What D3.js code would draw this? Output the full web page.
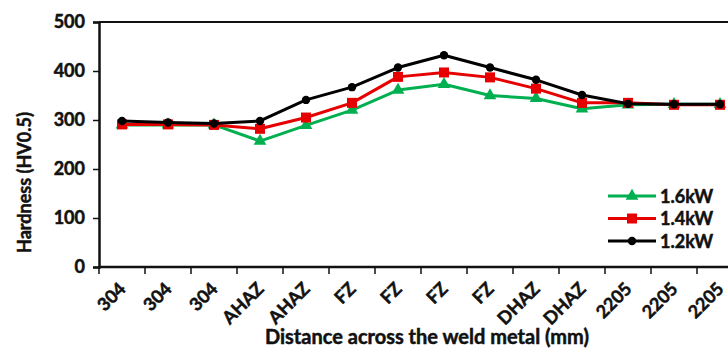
<!DOCTYPE html>
<html lang="en">
<head>
    <meta charset="UTF-8">
    <title>Hardness across the weld</title>
    <script src="https://cdnjs.cloudflare.com/ajax/libs/d3/7.8.5/d3.min.js"></script>
    <style>
        body {
            margin: 0;
            background: #fff;
            overflow: hidden;
        }
        text {
            font-family: Lato, 'Open Sans', Arial, sans-serif;
            font-weight: 700;
            fill: #111;
            stroke: #111;
            stroke-width: 0.5px;
        }
    </style>
</head>
<body>
    <div id="chart"></div>
    <script>
    const categories = ["304", "304", "304", "AHAZ", "AHAZ", "FZ", "FZ", "FZ", "FZ", "DHAZ", "DHAZ", "2205", "2205", "2205"];
    const hv16 = [290, 290, 290, 257, 289, 320, 361, 373, 350, 344, 323, 331, 332, 332];
    const hv14 = [291, 291, 290, 282, 305, 335, 388, 397, 387, 364, 335, 335, 331, 331];
    const hv12 = [298, 295, 293, 298, 341, 367, 407, 432, 407, 382, 351, 333, 332, 332];
    const yTicks = [0, 100, 200, 300, 400, 500];

    const series = [
        { name: "1.6kW", values: hv16, color: "#00b050", marker: "triangle" },
        { name: "1.4kW", values: hv14, color: "#e60000", marker: "square" },
        { name: "1.2kW", values: hv12, color: "#000000", marker: "circle" }
    ];

    const width = 728, height = 349;
    const plotLeft = 99, plotTop = 22, plotBottom = 267;
    const step = 46;

    const svg = d3.select("#chart").append("svg")
        .attr("width", width)
        .attr("height", height);

    const x = d3.scaleBand()
        .domain(d3.range(categories.length))
        .range([plotLeft, plotLeft + step * categories.length]);

    const y = d3.scaleLinear()
        .domain([0, 500])
        .range([plotBottom, plotTop]);

    // top border of the plot area
    svg.append("line")
        .attr("x1", plotLeft).attr("x2", width)
        .attr("y1", plotTop).attr("y2", plotTop)
        .attr("stroke", "#111").attr("stroke-width", 2);

    // y axis
    const yAxis = svg.append("g")
        .attr("transform", `translate(${plotLeft},0)`)
        .call(d3.axisLeft(y).tickValues(yTicks).tickSize(6).tickPadding(8));
    yAxis.select(".domain").attr("stroke", "#111").attr("stroke-width", 2.5);
    yAxis.selectAll(".tick line").attr("stroke", "#111").attr("stroke-width", 1.5);
    yAxis.selectAll(".tick text")
        .style("font-size", "18px")
        .style("font-family", "Lato, sans-serif")
        .style("font-weight", 700)
        .attr("fill", "#111");

    // x axis: ticks at category boundaries
    const boundaries = d3.range(categories.length + 1).map(i => plotLeft + i * step);
    const xAxis = svg.append("g");
    xAxis.append("line")
        .attr("x1", plotLeft).attr("x2", width)
        .attr("y1", plotBottom).attr("y2", plotBottom)
        .attr("stroke", "#111").attr("stroke-width", 2.5);
    xAxis.selectAll("line.tick")
        .data(boundaries)
        .enter().append("line")
        .attr("class", "tick")
        .attr("x1", d => d).attr("x2", d => d)
        .attr("y1", plotBottom).attr("y2", plotBottom + 7)
        .attr("stroke", "#111").attr("stroke-width", 1.5);

    xAxis.selectAll("text.cat")
        .data(categories)
        .enter().append("text")
        .attr("class", "cat")
        .attr("text-anchor", "end")
        .attr("transform", (d, i) => `translate(${x(i) + x.bandwidth() / 2 + 5},${plotBottom + 23})rotate(-45)`)
        .style("font-size", "18px")
        .text(d => d);

    // axis titles
    svg.append("text")
        .attr("text-anchor", "middle")
        .attr("transform", `translate(31,${(plotTop + plotBottom) / 2 + 38})rotate(-90)`)
        .style("font-size", "18px")
        .text("Hardness (HV0.5)");

    svg.append("text")
        .attr("text-anchor", "middle")
        .attr("x", 427)
        .attr("y", 344)
        .style("font-size", "20px")
        .text("Distance across the weld metal (mm)");

    const cx = i => x(i) + x.bandwidth() / 2;

    const line = d3.line()
        .x((d, i) => cx(i))
        .y(d => y(d));

    function drawMarker(g, type, color) {
        if (type === "triangle") {
            g.append("path").attr("d", d3.symbol(d3.symbolTriangle, 70)()).attr("fill", color);
        } else if (type === "square") {
            g.append("rect").attr("x", -5).attr("y", -5).attr("width", 10).attr("height", 10).attr("fill", color);
        } else {
            g.append("circle").attr("r", 4.2).attr("fill", color);
        }
    }

    series.forEach(s => {
        svg.append("path")
            .datum(s.values)
            .attr("fill", "none")
            .attr("stroke", s.color)
            .attr("stroke-width", 3)
            .attr("stroke-linejoin", "round")
            .attr("d", line);

        s.values.forEach((v, i) => {
            const g = svg.append("g").attr("transform", `translate(${cx(i)},${y(v)})`);
            drawMarker(g, s.marker, s.color);
        });
    });

    // legend
    const legend = svg.append("g");
    series.forEach((s, i) => {
        const ly = 196 + i * 22.5;
        legend.append("line")
            .attr("x1", 608).attr("x2", 656)
            .attr("y1", ly).attr("y2", ly)
            .attr("stroke", s.color).attr("stroke-width", 3);
        const g = legend.append("g").attr("transform", `translate(632,${ly})`);
        drawMarker(g, s.marker, s.color);
        legend.append("text")
            .attr("x", 660)
            .attr("y", ly + 6.5)
            .style("font-size", "18px")
            .text(s.name);
    });
    </script>
</body>
</html>
